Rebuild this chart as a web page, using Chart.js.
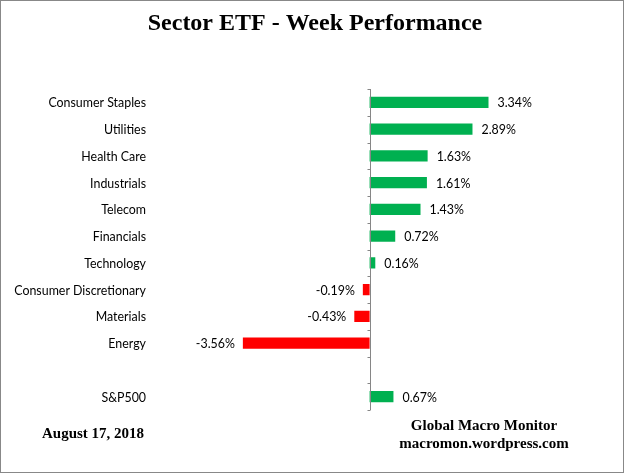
<!DOCTYPE html>
<html>
<head>
<meta charset="utf-8">
<script src="https://cdn.jsdelivr.net/npm/chart.js@4"></script>
<style>
  html, body { margin: 0; padding: 0; background: #fff; }
</style>
</head>
<body>
<canvas id="etfChart" width="625" height="475"></canvas>
<script>
// week performance by sector, % change
const sectors = ['Consumer Staples', 'Utilities', 'Health Care', 'Industrials', 'Telecom', 'Financials',
  'Technology', 'Consumer Discretionary', 'Materials', 'Energy', '', 'S&P500'];
const weekChange = [3.34, 2.89, 1.63, 1.61, 1.43, 0.72, 0.16, -0.19, -0.43, -3.56, null, 0.67];
const chartTitle = 'Sector ETF - Week Performance';
const dateNote = 'August 17, 2018';
const sourceNote = ['Global Macro Monitor', 'macromon.wordpress.com'];

const decor = {
  id: 'decor',
  afterDatasetsDraw(chart) {
    const { ctx, chartArea, scales: { x, y } } = chart;
    const zero = Math.round(x.getPixelForValue(0)) + 0.5;
    ctx.save();

    // axis line with tick marks between categories
    ctx.strokeStyle = '#868686';
    ctx.lineWidth = 1;
    ctx.beginPath();
    ctx.moveTo(zero, chartArea.top);
    ctx.lineTo(zero, chartArea.bottom);
    for (let i = 0; i <= sectors.length; i++) {
      const yy = Math.round(y.getPixelForValue(i - 0.5)) + 0.5;
      ctx.moveTo(zero - 3, yy);
      ctx.lineTo(zero, yy);
    }
    ctx.stroke();

    // category labels
    ctx.fillStyle = '#000';
    ctx.font = '12.4px Lato';
    ctx.textBaseline = 'middle';
    ctx.textAlign = 'right';
    sectors.forEach((s, i) => ctx.fillText(s, 146, y.getPixelForValue(i) + 1));

    // value labels
    weekChange.forEach((v, i) => {
      if (v === null) return;
      const px = x.getPixelForValue(v);
      ctx.textAlign = v >= 0 ? 'left' : 'right';
      ctx.fillText(v.toFixed(2) + '%', v >= 0 ? px + 9 : px - 8, y.getPixelForValue(i) + 1);
    });

    // title and notes
    ctx.textAlign = 'center';
    ctx.font = 'bold 24px "Liberation Serif"';
    ctx.fillText(chartTitle, 315, 24);
    ctx.font = 'bold 15px "Liberation Serif"';
    ctx.fillText(dateNote, 93, 434);
    ctx.fillText(sourceNote[0], 484, 426);
    ctx.fillText(sourceNote[1], 484, 444);

    // frame
    ctx.strokeStyle = '#888';
    ctx.strokeRect(0.5, 0.5, 623, 472);
    ctx.restore();
  }
};

new Chart(document.getElementById('etfChart'), {
  type: 'bar',
  data: {
    labels: sectors,
    datasets: [{
      data: weekChange,
      backgroundColor: weekChange.map(v => v >= 0 ? '#00B050' : '#FF0000'),
      barPercentage: 0.42,
      categoryPercentage: 1
    }]
  },
  options: {
    indexAxis: 'y',
    responsive: false,
    animation: false,
    layout: { padding: { left: 156, right: 113, top: 89, bottom: 65 } },
    scales: {
      x: { display: false, min: -6, max: 4 },
      y: { display: false }
    },
    plugins: {
      legend: { display: false },
      tooltip: { enabled: false }
    }
  },
  plugins: [decor]
});
</script>
</body>
</html>
